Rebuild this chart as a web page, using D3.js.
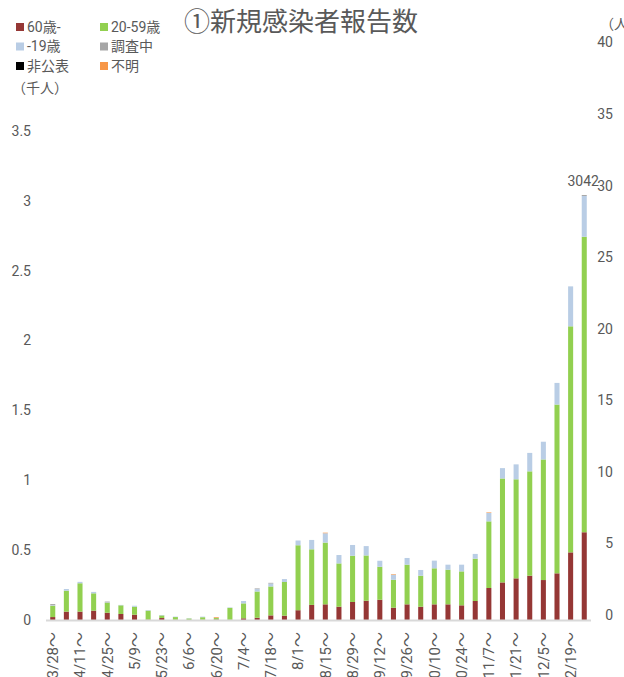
<!DOCTYPE html>
<html>
<head>
<meta charset="utf-8">
<script src="https://cdn.jsdelivr.net/npm/d3@7"></script>
<style>
  body { margin: 0; background: #fff; }
  svg { display: block; }
  text { fill: #595959; font-family: Roboto, "Noto Sans CJK JP", sans-serif; }
</style>
</head>
<body>
<div id="chart"></div>
<script>
// --- data (thousands of people per week) ---
const weeks = ["3/28","4/4","4/11","4/18","4/25","5/2","5/9","5/16","5/23","5/30",
  "6/6","6/13","6/20","6/27","7/4","7/11","7/18","7/25","8/1","8/8",
  "8/15","8/22","8/29","9/5","9/12","9/19","9/26","10/3","10/10","10/17",
  "10/24","10/31","11/7","11/14","11/21","11/28","12/5","12/12","12/19","12/26"];

const age60 = [0.021,0.060,0.060,0.067,0.052,0.043,0.038,0.003,0.014,0.002,
  0.001,0.002,0.004,0.001,0.012,0.016,0.033,0.031,0.070,0.108,
  0.112,0.095,0.129,0.138,0.145,0.088,0.112,0.095,0.112,0.112,
  0.105,0.136,0.229,0.269,0.298,0.317,0.286,0.334,0.484,0.628];
const age20 = [0.081,0.150,0.203,0.124,0.072,0.062,0.057,0.064,0.019,0.019,
  0.010,0.018,0.010,0.086,0.107,0.188,0.207,0.241,0.465,0.398,
  0.442,0.310,0.331,0.324,0.236,0.200,0.284,0.222,0.258,0.248,
  0.243,0.303,0.477,0.744,0.709,0.747,0.863,1.208,1.618,2.115];
const ageU19 = [0.004,0.012,0.010,0.010,0.002,0.003,0.007,0.004,0.003,0.003,
  0.002,0.004,0.002,0.003,0.017,0.017,0.021,0.021,0.034,0.067,
  0.067,0.060,0.077,0.067,0.043,0.036,0.048,0.041,0.055,0.036,
  0.048,0.034,0.060,0.074,0.107,0.132,0.127,0.155,0.286,0.292];
const investigating = [0.008,0,0,0,0.006,0,0,0,0,0,
  0,0,0,0,0,0.005,0.005,0,0,0,
  0,0,0,0,0,0,0,0,0,0,
  0,0,0,0,0,0,0,0,0,0.007];
const undisclosed = new Array(40).fill(0);
const unknown = [0,0,0,0,0,0,0,0,0,0,
  0,0,0.005,0,0,0,0,0,0,0,
  0.004,0,0,0,0,0.004,0,0,0,0,
  0,0,0.004,0,0,0,0,0,0,0];

const seriesNames = ["60歳-", "20-59歳", "-19歳", "調査中", "非公表", "不明"];
const seriesKeys = ["a60", "a20", "u19", "inv", "undis", "unk"];
const seriesColors = ["#953735", "#92d050", "#b9cde5", "#a6a6a6", "#000000", "#f79646"];
const leftTicks = [0, 0.5, 1, 1.5, 2, 2.5, 3, 3.5];
const rightTicks = [0, 5, 10, 15, 20, 25, 30, 35, 40];

const rows = weeks.map((w, i) => ({
  week: w, a60: age60[i], a20: age20[i], u19: ageU19[i],
  inv: investigating[i], undis: undisclosed[i], unk: unknown[i]
}));

// --- layout ---
const W = 624, H = 677;
const svg = d3.select("#chart").append("svg").attr("width", W).attr("height", H);

const x = d3.scaleBand().domain(weeks).range([46, 591]).paddingInner(0.63).paddingOuter(0.31);
const y = d3.scaleLinear().domain([0, 3.5]).range([620, 131]);
const y2 = d3.scaleLinear().domain([0, 40]).range([615, 42.5]);

// left axis labels
svg.append("g").selectAll("text").data(leftTicks).enter().append("text")
  .attr("x", 31).attr("y", d => y(d)).attr("dy", "0.35em")
  .attr("text-anchor", "end").attr("font-size", 14).text(d => d);

// right axis labels
svg.append("g").selectAll("text").data(rightTicks).enter().append("text")
  .attr("x", 613).attr("y", d => y2(d)).attr("dy", "0.35em")
  .attr("text-anchor", "end").attr("font-size", 14).text(d => d);

// stacked bars
const stacked = d3.stack().keys(seriesKeys)(rows);
svg.append("g").selectAll("g").data(stacked).enter().append("g")
  .attr("fill", (d, i) => seriesColors[i])
  .selectAll("rect").data(d => d).enter().append("rect")
  .attr("x", d => x(d.data.week))
  .attr("width", x.bandwidth())
  .attr("y", d => y(d[1]))
  .attr("height", d => Math.max(0, y(d[0]) - y(d[1])));

// baseline
svg.append("line").attr("x1", 46).attr("x2", 591).attr("y1", 620.5).attr("y2", 620.5)
  .attr("stroke", "#d9d9d9").attr("stroke-width", 2);

// total label on last bar
const last = rows[rows.length - 1];
const lastTotal = seriesKeys.reduce((s, k) => s + last[k], 0);
svg.append("text")
  .attr("x", x(last.week) + x.bandwidth() / 2 - 1).attr("y", y(lastTotal) - 9)
  .attr("text-anchor", "middle").attr("font-size", 14)
  .text(Math.round(lastTotal * 1000));

// x labels, every other week (cut at the bottom edge like the original)
svg.append("g").selectAll("text").data(weeks.filter((d, i) => i % 2 === 0)).enter().append("text")
  .attr("transform", d => `translate(${x(d) + x.bandwidth() / 2},632) rotate(-90)`)
  .attr("dy", "0.35em").attr("text-anchor", "end").attr("font-size", 15)
  .text(d => d + "～");

// title
svg.append("text").attr("x", 184).attr("y", 31)
  .attr("font-size", 26)
  .style("font-family", "'Noto Sans CJK JP'")
  .text("①新規感染者報告数");

// legend
const legend = svg.append("g").selectAll("g").data(seriesNames).enter().append("g")
  .attr("transform", (d, i) => `translate(${i % 2 === 0 ? 16 : 100},${27 + Math.floor(i / 2) * 19.5})`);
legend.append("rect").attr("x", 0).attr("y", -4).attr("width", 8).attr("height", 8)
  .attr("fill", (d, i) => seriesColors[i]);
legend.append("text").attr("x", 11).attr("dy", "0.35em").attr("font-size", 14)
  .attr("fill", (d, i) => i >= 2 && i % 2 === 0 ? "#262626" : "#595959")
  .text(d => d);

// units
svg.append("text").attr("x", 12).attr("y", 88).attr("dy", "0.35em").attr("font-size", 14).text("（千人）");
svg.append("text").attr("x", 600).attr("y", 24).attr("dy", "0.35em").attr("font-size", 14).text("（人）");
</script>
</body>
</html>
